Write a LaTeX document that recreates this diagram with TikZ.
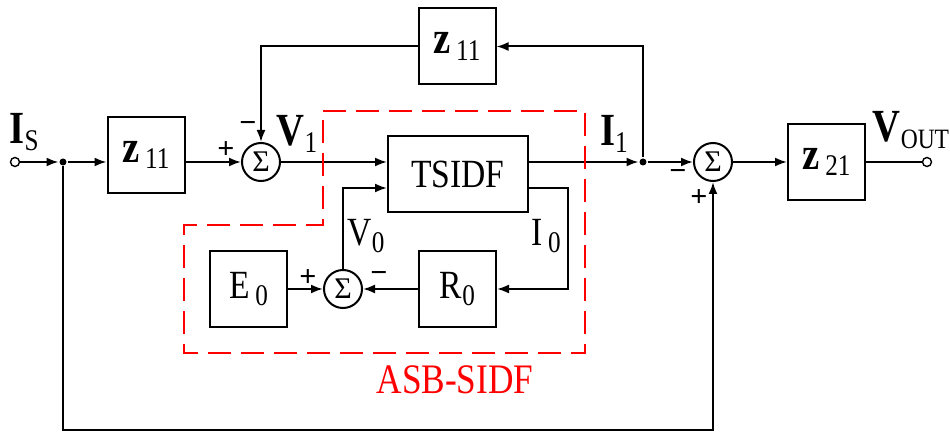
\documentclass[tikz,border=0pt]{standalone}
\usepackage{fontspec}
\usepackage{graphicx}
\setmainfont{Liberation Serif}
\usetikzlibrary{arrows.meta}
\newcommand{\nar}[1]{\scalebox{.84}[1]{#1}}
\newcommand{\lbl}[2]{\nar{#1\raisebox{-.35ex}{\fontsize{15}{15}\selectfont#2}}}
\newcommand{\bigb}[1]{\textbf{\fontsize{23}{23}\selectfont#1}}
\begin{document}
\begin{tikzpicture}[x=.5pt,y=-.5pt,line width=1pt,
	>={Latex[length=6pt,width=4.5pt]},
	font=\fontsize{20}{22}\selectfont,
	blk/.style={draw,minimum width=38.5pt,minimum height=38pt,inner sep=0pt},
	sum/.style={draw,circle,minimum size=19pt,inner sep=0pt,font=\fontsize{15}{15}\selectfont},
	sgn/.style={inner sep=0pt,font=\fontsize{15}{15}\selectfont},
	dot/.style={circle,fill,minimum size=3.5pt,inner sep=0pt},
	term/.style={circle,draw,fill=white,minimum size=4.5pt,inner sep=0pt,line width=.7pt}]
	\useasboundingbox(0,0)rectangle(950,433);
	\node[term](in)at(15,162){};
	\node[dot](ja)at(63,162){};
	\node[blk](za)at(146,155){\lbl{\bigb{z}\,}{11}};
	\node[sum](s1)at(261,162){Σ};
	\node[blk](zb)at(457,46.5){\lbl{\bigb{z}\,}{11}};
	\node[blk,minimum width=70pt](ts)at(458,174.5){\nar{TSIDF}};
	\node[blk](e0)at(248.5,289){\lbl{E\,}{0}};
	\node[sum](s2)at(343,289){Σ};
	\node[blk](r0)at(457.5,289){\lbl{R}{0}};
	\node[dot](jb)at(643,162){};
	\node[sum](s3)at(713,162){Σ};
	\node[blk](z21)at(826.5,162){\lbl{\bigb{z}\,}{21}};
	\node[term](out)at(927,162){};
	\coordinate(bl)at(63,430);
	\draw[->](in)--(ja);
	\draw[->](ja)--(za.west|-ja);
	\draw[->](za.east|-s1)--(s1);
	\draw[->](s1)--(ts.west|-s1);
	\draw[->](ts.east|-jb)--(jb);
	\draw[->](jb)--(s3);
	\draw[->](s3)--(z21);
	\draw(z21)--(out);
	\draw[->](jb)|-(zb.east);
	\draw[->](zb.west)-|(s1);
	\draw[->](ja)--(bl)-|(s3);
	\draw[->](e0)--(s2);
	\draw[->](r0)--(s2);
	\draw[<-]([yshift=-6.75pt]ts.west)-|(s2);
	\draw[->]([yshift=-6.75pt]ts.east)--++(39,0)|-(r0);
	\draw[red,dash pattern=on 11.5pt off 5pt](323,111)--(585,111)--(585,353)--(184,353)--(184,225)--(323,225)--cycle;
	\node[red,font=\fontsize{21}{22}\selectfont](asb)at(455,380){\nar{ASB-SIDF}};
	\node(lis)at(24,132){\lbl{\bigb{I}}{S}};
	\node(lv1)at(297,134){\lbl{\bigb{V}}{1}};
	\node(li1)at(614,134){\lbl{\bigb{I}}{1}};
	\node(lvout)at(911,130){\lbl{\bigb{V}}{\fontsize{14}{14}\selectfont OUT}};
	\node(lv0)at(366,236){\lbl{V}{0}};
	\node(li0)at(546,236){\lbl{I\,}{0}};
	\node[sgn](pa)at(226,150){\textbf{+}};
	\node[sgn](ma)at(248,127){\textbf{−}};
	\node[sgn](pb)at(308,278){\textbf{+}};
	\node[sgn](mb)at(379,277){\textbf{−}};
	\node[sgn](mc)at(678,175){\textbf{−}};
	\node[sgn](pc)at(699,198){\textbf{+}};
\end{tikzpicture}
\end{document}
